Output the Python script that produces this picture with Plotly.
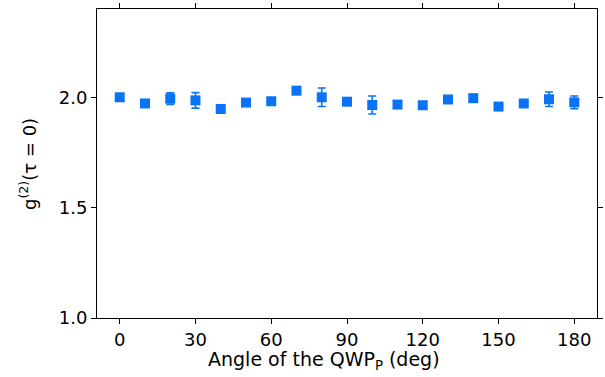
import plotly.graph_objects as go

angles = [0, 10, 20, 30, 40, 50, 60, 70, 80, 90, 100, 110, 120, 130, 140, 150, 160, 170, 180]
g2 = [2.000, 1.972, 1.994, 1.986, 1.947, 1.976, 1.982, 2.030, 2.000, 1.980,
      1.965, 1.967, 1.964, 1.990, 1.996, 1.958, 1.972, 1.991, 1.977]
g2_err = [0.004, 0.012, 0.026, 0.035, 0.008, 0.004, 0.010, 0.004, 0.042, 0.010,
          0.041, 0.004, 0.008, 0.004, 0.012, 0.004, 0.004, 0.033, 0.029]

x_ticks = [0, 30, 60, 90, 120, 150, 180]
y_ticks = [1.0, 1.5, 2.0]
y_tick_labels = ["1.0", "1.5", "2.0"]
x_title = "Angle of the QWP<sub>P</sub> (deg)"
y_title = "g<sup>(2)</sup>(τ = 0)"

color = "#0a72f5"
font = "DejaVu Sans"

W, H = 605, 377
L, R, T, B = 97, 8, 9, 59

fig = go.Figure()
fig.add_trace(go.Scatter(
    x=angles, y=g2, mode="markers",
    marker=dict(symbol="square", size=10, color=color),
    error_y=dict(type="data", array=g2_err, visible=True, color=color, thickness=1.6, width=4),
    showlegend=False,
))

axis_common = dict(
    showline=True, linecolor="black", linewidth=1, mirror="allticks",
    ticks="outside", ticklen=5, tickwidth=1, tickcolor="black",
    showgrid=False, zeroline=False, automargin=False,
    tickfont=dict(family=font, size=18, color="black"),
)

pw = W - L - R
ph = H - T - B

fig.update_layout(
    width=W, height=H,
    margin=dict(l=L, r=R, t=T, b=B),
    paper_bgcolor="white", plot_bgcolor="white",
    font=dict(family=font, color="black"),
    xaxis=dict(range=[-9, 189], tickvals=x_ticks, **axis_common),
    yaxis=dict(range=[1.0, 2.4], tickvals=y_ticks, ticktext=y_tick_labels, **axis_common),
    annotations=[
        dict(text=x_title, xref="paper", yref="paper",
             x=(324 - L) / pw, y=-(360 - (H - B)) / ph,
             xanchor="center", yanchor="middle", showarrow=False,
             font=dict(family=font, size=19, color="black")),
        dict(text=y_title, xref="paper", yref="paper",
             x=-(L - 28) / pw, y=((H - B) - 164) / ph,
             xanchor="center", yanchor="middle", showarrow=False, textangle=-90,
             font=dict(family=font, size=18, color="black")),
    ],
)

fig.write_html("out.html", config={"displayModeBar": False},
               post_script="document.body.style.margin='0';")
